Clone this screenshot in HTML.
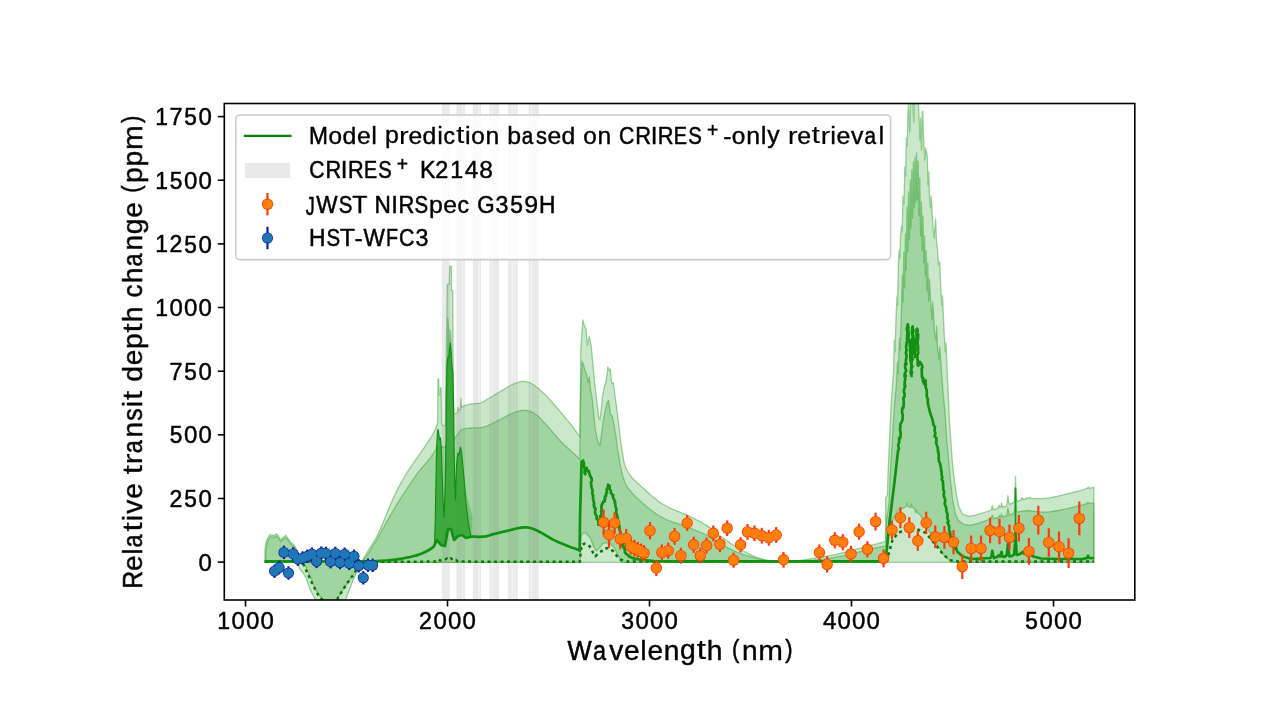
<!DOCTYPE html>
<html><head><meta charset="utf-8"><title>chart</title>
<style>html,body{margin:0;padding:0;background:#fff}svg{display:block}text{font-family:"Liberation Sans",sans-serif;fill:#000}</style></head>
<body>
<svg width="1275" height="712" viewBox="0 0 1275 712">
<defs><clipPath id="ax"><rect x="224.3" y="103.5" width="910.5" height="496.5"/></clipPath></defs>
<rect width="1275" height="712" fill="#fff"/>
<g clip-path="url(#ax)">
<path d="M264.9 562.3 L265.0 550.0 L265.5 545.0 L266.5 541.0 L267.9 537.6 L269.4 535.4 L270.8 534.5 L272.2 535.1 L273.8 535.8 L276.6 533.8 L278.5 536.2 L280.8 540.2 L283.0 537.4 L285.8 535.3 L288.1 538.5 L290.3 541.9 L293.1 544.1 L295.4 546.9 L297.5 552.0 L299.5 558.0 L301.5 561.5 L361.5 561.5 L361.5 561.5 L361.6 561.3 L361.8 561.1 L362.0 560.8 L362.2 560.5 L362.4 560.2 L362.7 559.7 L363.1 559.2 L363.5 558.5 L364.0 557.7 L364.5 556.8 L365.0 555.9 L365.7 554.8 L366.3 553.7 L367.0 552.5 L367.7 551.3 L368.5 550.0 L369.3 548.7 L370.2 547.3 L371.2 545.8 L372.2 544.3 L373.2 542.7 L374.2 541.2 L375.1 539.6 L376.0 538.0 L376.8 536.4 L377.6 534.9 L378.4 533.3 L379.1 531.7 L379.8 530.1 L380.5 528.4 L381.3 526.7 L382.0 525.0 L382.7 523.3 L383.5 521.5 L384.2 519.7 L384.9 517.9 L385.7 516.1 L386.4 514.1 L387.3 512.1 L388.2 510.0 L389.2 507.7 L390.2 505.3 L391.3 502.8 L392.4 500.2 L393.6 497.6 L394.8 495.0 L396.0 492.5 L397.2 490.0 L398.4 487.6 L399.7 485.2 L401.0 482.8 L402.4 480.5 L403.7 478.2 L405.0 475.9 L406.4 473.7 L407.7 471.5 L409.0 469.4 L410.4 467.3 L411.8 465.3 L413.1 463.4 L414.5 461.4 L415.8 459.6 L417.1 457.8 L418.3 456.0 L419.5 454.3 L420.6 452.6 L421.8 451.0 L422.8 449.5 L423.9 448.0 L424.9 446.5 L425.9 445.1 L426.8 443.7 L427.7 442.4 L428.5 441.1 L429.3 439.9 L430.1 438.8 L430.8 437.6 L431.5 436.5 L432.1 435.5 L432.7 434.4 L433.3 433.3 L433.8 432.3 L434.3 431.2 L434.7 430.2 L435.1 429.3 L435.5 428.4 L435.8 427.5 L436.1 426.8 L436.4 426.2 L436.6 425.6 L436.8 425.1 L437.0 424.7 L437.1 424.3 L437.2 424.0 L437.3 423.7 L437.4 423.5 L437.6 423.0 L438.0 379.0 L438.7 379.0 L439.0 394.6 L440.3 394.6 L440.5 387.7 L441.1 387.7 L441.6 423.0 L442.4 425.0 L445.4 426.0 L446.4 345.0 L447.1 300.0 L447.2 284.3 L449.2 284.3 L449.6 272.0 L449.8 266.1 L451.4 266.1 L451.5 290.4 L452.8 290.4 L453.0 345.0 L453.4 400.0 L453.8 414.0 L454.5 414.2 L456.4 413.2 L457.5 412.0 L457.9 407.3 L458.4 411.0 L460.3 409.0 L460.9 398.5 L461.5 407.3 L461.8 407.3 L462.0 407.2 L462.2 407.0 L462.4 406.8 L462.7 406.5 L463.1 406.3 L463.4 406.0 L463.9 405.8 L464.3 405.6 L464.8 405.4 L465.3 405.3 L465.9 405.1 L466.5 404.9 L467.2 404.8 L467.9 404.7 L468.5 404.5 L469.2 404.4 L469.9 404.3 L470.6 404.2 L471.3 404.1 L472.0 404.0 L472.8 403.9 L473.5 403.8 L474.3 403.7 L475.0 403.6 L475.7 403.5 L476.5 403.5 L477.2 403.5 L478.0 403.5 L478.7 403.5 L479.5 403.4 L480.3 403.2 L481.1 403.0 L481.9 402.6 L482.8 402.2 L483.7 401.7 L484.5 401.1 L485.4 400.5 L486.3 399.9 L487.2 399.3 L488.1 398.8 L489.0 398.3 L489.9 397.8 L490.7 397.2 L491.6 396.7 L492.5 396.2 L493.4 395.7 L494.2 395.1 L495.1 394.6 L496.0 394.1 L496.9 393.6 L497.7 393.0 L498.6 392.5 L499.5 392.0 L500.4 391.4 L501.2 390.9 L502.1 390.4 L503.0 389.9 L503.8 389.3 L504.7 388.8 L505.6 388.2 L506.5 387.7 L507.3 387.2 L508.2 386.7 L509.1 386.2 L510.0 385.7 L510.9 385.3 L511.8 384.8 L512.7 384.4 L513.5 384.0 L514.4 383.6 L515.3 383.2 L516.2 382.9 L517.1 382.6 L518.0 382.3 L518.8 382.1 L519.7 381.8 L520.6 381.7 L521.5 381.5 L522.3 381.4 L523.2 381.4 L524.1 381.4 L525.0 381.5 L525.8 381.6 L526.7 381.8 L527.6 382.0 L528.5 382.2 L529.3 382.5 L530.2 382.9 L531.1 383.3 L531.9 383.8 L532.8 384.4 L533.7 384.9 L534.6 385.6 L535.4 386.2 L536.3 386.9 L537.2 387.6 L538.1 388.3 L539.0 389.0 L539.9 389.8 L540.8 390.6 L541.6 391.4 L542.5 392.2 L543.4 393.1 L544.3 393.9 L545.2 394.8 L546.1 395.6 L546.9 396.5 L547.8 397.4 L548.7 398.4 L549.6 399.3 L550.4 400.2 L551.3 401.2 L552.2 402.2 L553.0 403.2 L553.9 404.2 L554.8 405.2 L555.7 406.2 L556.5 407.2 L557.4 408.3 L558.3 409.3 L559.2 410.3 L560.0 411.4 L560.9 412.5 L561.8 413.5 L562.7 414.6 L563.5 415.7 L564.4 416.7 L565.3 417.8 L566.2 418.8 L567.1 419.9 L567.9 420.9 L568.8 421.9 L569.7 423.0 L570.6 424.0 L571.4 425.1 L572.3 426.2 L573.2 427.4 L574.2 428.8 L575.2 430.2 L576.2 431.6 L577.1 433.0 L578.0 434.2 L578.7 435.2 L579.2 436.0 L579.8 437.0 L580.3 400.0 L580.8 349.3 L582.8 319.8 L584.7 326.7 L586.1 328.7 L587.3 345.4 L589.3 336.5 L591.2 346.3 L592.6 361.1 L594.6 382.7 L596.5 398.4 L598.5 416.1 L599.9 420.0 L601.4 408.2 L602.4 396.4 L604.4 386.6 L606.3 380.7 L607.9 367.0 L609.3 370.9 L610.3 368.9 L611.7 383.7 L613.2 382.7 L614.8 394.5 L616.2 404.3 L618.1 420.0 L620.1 435.7 L620.5 440.0 L620.7 441.1 L620.9 442.5 L621.1 444.3 L621.4 446.2 L621.7 448.2 L622.0 450.3 L622.3 452.2 L622.6 454.0 L622.9 455.7 L623.2 457.3 L623.5 459.0 L623.8 460.6 L624.1 462.2 L624.5 463.8 L624.9 465.3 L625.4 466.7 L626.0 468.1 L626.6 469.4 L627.3 470.7 L628.0 472.0 L628.7 473.2 L629.5 474.3 L630.3 475.4 L631.1 476.5 L631.9 477.5 L632.8 478.5 L633.6 479.4 L634.5 480.2 L635.4 481.0 L636.3 481.9 L637.2 482.7 L638.1 483.5 L639.0 484.3 L639.9 485.1 L640.7 485.9 L641.6 486.7 L642.5 487.5 L643.4 488.3 L644.2 489.1 L645.1 489.9 L646.0 490.7 L646.8 491.5 L647.7 492.3 L648.6 493.1 L649.5 493.9 L650.3 494.7 L651.2 495.4 L652.1 496.2 L653.0 496.9 L653.9 497.7 L654.8 498.4 L655.7 499.1 L656.5 499.8 L657.4 500.5 L658.3 501.2 L659.2 501.8 L660.1 502.4 L661.0 503.0 L661.8 503.5 L662.7 504.0 L663.6 504.5 L664.5 505.0 L665.3 505.5 L666.2 506.0 L667.1 506.5 L668.0 506.9 L668.8 507.4 L669.7 507.8 L670.6 508.3 L671.5 508.7 L672.3 509.1 L673.2 509.5 L674.1 509.9 L675.0 510.2 L675.8 510.6 L676.7 510.9 L677.6 511.3 L678.5 511.6 L679.3 512.0 L680.2 512.3 L681.1 512.6 L681.9 513.0 L682.8 513.3 L683.7 513.6 L684.6 514.0 L685.4 514.3 L686.3 514.7 L687.2 515.1 L688.1 515.5 L689.0 515.9 L689.9 516.4 L690.8 516.9 L691.6 517.3 L692.5 517.8 L693.4 518.2 L694.3 518.7 L695.2 519.1 L696.0 519.5 L696.9 519.9 L697.7 520.3 L698.6 520.7 L699.4 521.2 L700.3 521.7 L701.3 522.2 L702.3 522.8 L703.4 523.5 L704.5 524.2 L705.7 524.9 L706.8 525.6 L707.9 526.4 L709.0 527.1 L710.0 527.8 L710.9 528.5 L711.7 529.2 L712.5 529.8 L713.3 530.5 L714.0 531.2 L714.8 531.9 L715.6 532.5 L716.4 533.2 L717.3 533.9 L718.2 534.6 L719.2 535.3 L720.2 536.0 L721.2 536.6 L722.1 537.3 L723.1 538.0 L724.0 538.6 L724.8 539.2 L725.6 539.8 L726.3 540.3 L727.0 540.8 L727.8 541.3 L728.6 541.9 L729.5 542.5 L730.5 543.2 L731.7 544.0 L733.0 544.8 L734.5 545.7 L736.0 546.6 L737.5 547.5 L739.0 548.4 L740.4 549.2 L741.7 550.0 L742.9 550.7 L744.0 551.3 L745.0 551.9 L746.1 552.4 L747.0 552.9 L748.0 553.4 L749.0 553.9 L750.0 554.4 L751.0 554.9 L752.0 555.3 L753.0 555.8 L754.0 556.2 L755.0 556.6 L756.0 557.0 L757.0 557.3 L758.0 557.7 L759.0 558.0 L760.0 558.4 L760.9 558.7 L761.9 559.0 L762.9 559.2 L763.9 559.5 L764.9 559.8 L766.0 560.0 L767.1 560.2 L768.3 560.4 L769.5 560.6 L770.7 560.8 L771.9 561.0 L773.2 561.1 L774.6 561.3 L776.0 561.4 L777.4 561.5 L778.8 561.7 L780.3 561.8 L781.8 561.9 L783.4 561.9 L785.1 562.0 L787.0 561.9 L789.0 561.8 L791.2 561.6 L793.6 561.3 L796.0 561.0 L798.7 560.6 L801.4 560.2 L804.2 559.8 L807.2 559.3 L810.2 558.8 L813.4 558.3 L816.9 557.7 L820.5 557.1 L824.3 556.5 L828.0 555.9 L831.6 555.2 L835.1 554.6 L838.3 553.9 L841.3 553.2 L844.2 552.5 L847.0 551.8 L849.7 551.0 L852.3 550.3 L854.8 549.6 L857.2 548.9 L859.4 548.3 L861.5 547.8 L863.5 547.3 L865.3 546.8 L867.0 546.4 L868.7 546.0 L870.3 545.6 L871.8 545.2 L873.4 544.8 L875.0 544.4 L876.7 543.9 L878.3 543.5 L879.9 543.0 L881.4 542.6 L882.7 542.2 L883.8 541.9 L884.7 541.7 L885.5 541.7 L885.7 498.0 L887.4 495.0 L888.2 470.0 L889.7 436.0 L891.0 408.0 L892.5 385.0 L893.6 372.0 L894.2 340.0 L895.0 352.0 L896.0 318.0 L897.0 296.0 L897.6 305.0 L898.4 262.0 L899.2 250.0 L899.8 258.0 L900.6 236.0 L901.5 226.0 L902.2 232.0 L903.0 196.0 L904.0 204.0 L904.8 167.0 L905.6 176.0 L906.4 138.0 L907.2 146.0 L908.0 112.0 L908.5 104.0 L909.2 118.0 L909.8 132.0 L910.4 108.0 L911.0 96.0 L912.6 96.0 L913.2 112.0 L913.8 122.0 L914.3 100.0 L915.0 96.0 L917.6 96.0 L918.3 102.0 L918.9 112.0 L919.8 140.0 L920.6 118.0 L921.5 150.0 L922.3 112.0 L922.8 111.0 L923.4 135.0 L923.9 145.0 L924.8 160.0 L925.6 148.0 L927.3 156.0 L928.0 185.0 L928.8 172.0 L929.6 199.0 L930.5 208.0 L931.2 196.0 L932.9 226.0 L934.0 238.0 L935.6 219.0 L936.4 240.0 L937.4 248.0 L938.5 265.0 L939.7 262.0 L940.8 289.0 L941.8 305.0 L942.5 296.0 L944.2 334.0 L945.3 352.0 L946.0 343.0 L947.5 379.0 L949.5 422.0 L952.5 464.0 L955.0 486.0 L957.0 498.0 L959.0 507.0 L962.0 513.5 L963.6 514.7 L968.7 516.4 L975.4 515.2 L982.2 513.0 L990.6 510.5 L991.5 509.0 L992.3 505.4 L993.2 509.5 L997.3 508.8 L998.5 507.0 L999.2 505.2 L999.9 507.5 L1000.8 506.5 L1001.5 502.9 L1002.3 507.0 L1006.6 506.2 L1007.3 502.0 L1007.9 495.6 L1008.6 502.0 L1009.5 504.6 L1014.2 502.0 L1014.9 495.0 L1015.5 476.7 L1016.1 495.0 L1016.7 501.2 L1020.9 500.3 L1021.8 498.0 L1022.6 497.8 L1023.4 499.8 L1027.7 497.8 L1029.5 498.0 L1030.2 497.0 L1031.0 498.5 L1041.2 498.7 L1049.6 497.8 L1058.0 496.1 L1066.5 494.1 L1074.9 491.9 L1083.3 489.9 L1087.5 488.2 L1088.4 486.9 L1089.4 488.3 L1093.8 487.4 L1093.9 562.3 L362.0 562.3 L361.8 562.0 L359.6 566.2 L356.1 573.2 L351.9 583.0 L347.7 594.3 L345.6 600.0 L345.0 606.0 L315.5 606.0 L315.0 599.2 L312.8 594.7 L309.4 587.9 L306.0 577.8 L303.3 573.3 L300.4 570.0 L298.8 566.6 L297.5 562.3 L264.9 562.3 Z" fill="#2ca02c" fill-opacity="0.25" stroke="#2ca02c" stroke-opacity="0.45" stroke-width="1.3" stroke-linejoin="round"/>
<path d="M265.6 562.3 L265.8 552.0 L266.6 546.0 L267.8 541.5 L269.2 538.2 L270.8 536.5 L272.4 537.0 L274.0 537.6 L276.6 535.8 L278.5 538.2 L280.8 542.0 L283.0 539.2 L285.8 537.5 L288.1 540.2 L290.3 543.6 L293.1 546.0 L295.4 549.0 L297.5 554.0 L299.5 559.0 L301.5 561.5 L361.8 561.5 L362.0 561.5 L362.2 561.3 L362.4 561.1 L362.7 560.9 L363.0 560.7 L363.3 560.3 L363.7 560.0 L364.1 559.5 L364.5 559.0 L364.9 558.4 L365.4 557.8 L365.9 557.1 L366.4 556.4 L367.0 555.6 L367.6 554.7 L368.3 553.7 L369.0 552.5 L369.8 551.2 L370.7 549.8 L371.6 548.3 L372.6 546.7 L373.7 545.0 L374.7 543.2 L375.9 541.4 L377.0 539.4 L378.2 537.3 L379.4 535.0 L380.8 532.7 L382.1 530.2 L383.5 527.7 L384.8 525.2 L386.2 522.8 L387.5 520.4 L388.8 518.1 L390.1 515.8 L391.5 513.5 L392.8 511.2 L394.1 509.0 L395.4 506.8 L396.7 504.6 L398.0 502.5 L399.3 500.4 L400.6 498.4 L401.8 496.4 L403.1 494.4 L404.4 492.5 L405.6 490.5 L406.9 488.6 L408.2 486.7 L409.5 484.8 L410.8 482.8 L412.1 480.9 L413.5 478.9 L414.8 477.0 L416.1 475.2 L417.3 473.5 L418.5 471.9 L419.7 470.4 L420.8 469.0 L421.9 467.8 L423.0 466.5 L424.0 465.4 L425.0 464.3 L425.9 463.2 L426.8 462.2 L427.6 461.2 L428.3 460.3 L429.0 459.4 L429.7 458.6 L430.3 457.8 L430.8 457.0 L431.4 456.2 L431.9 455.5 L432.4 454.8 L432.9 454.1 L433.4 453.4 L433.8 452.7 L434.3 452.1 L434.6 451.5 L435.0 450.9 L435.3 450.4 L435.6 449.9 L435.8 449.4 L436.0 448.9 L436.1 448.4 L436.2 448.0 L436.3 447.7 L436.4 447.3 L436.5 447.1 L437.0 447.0 L442.4 447.0 L445.4 447.0 L446.6 440.0 L447.4 380.0 L447.9 318.0 L448.6 330.0 L449.4 380.0 L450.3 330.0 L451.0 345.0 L451.6 380.0 L452.3 400.0 L453.0 425.0 L453.8 440.0 L455.5 437.4 L457.4 434.5 L458.9 432.7 L460.9 430.0 L460.9 430.0 L461.1 429.9 L461.5 429.8 L461.8 429.7 L462.3 429.5 L462.7 429.4 L463.2 429.3 L463.6 429.1 L464.0 429.0 L464.4 428.9 L464.7 428.8 L465.0 428.7 L465.3 428.6 L465.6 428.5 L466.0 428.5 L466.4 428.4 L467.0 428.3 L467.7 428.2 L468.5 428.2 L469.3 428.1 L470.2 428.0 L471.2 428.0 L472.1 427.9 L473.1 427.8 L474.0 427.8 L474.9 427.8 L475.8 427.8 L476.7 427.8 L477.6 427.8 L478.4 427.8 L479.3 427.8 L480.2 427.7 L481.1 427.6 L482.0 427.4 L482.9 427.2 L483.7 427.0 L484.6 426.8 L485.5 426.5 L486.4 426.2 L487.2 425.8 L488.1 425.5 L489.0 425.1 L489.9 424.7 L490.7 424.3 L491.6 423.8 L492.5 423.4 L493.4 422.9 L494.2 422.4 L495.1 422.0 L496.0 421.6 L496.9 421.1 L497.7 420.7 L498.6 420.3 L499.5 419.8 L500.4 419.4 L501.2 419.0 L502.1 418.5 L503.0 418.0 L503.8 417.5 L504.7 417.1 L505.6 416.6 L506.5 416.1 L507.3 415.6 L508.2 415.1 L509.1 414.7 L510.0 414.3 L510.9 413.9 L511.8 413.5 L512.7 413.2 L513.5 412.8 L514.4 412.5 L515.3 412.2 L516.2 411.9 L517.1 411.6 L518.0 411.4 L518.8 411.1 L519.7 410.9 L520.6 410.7 L521.5 410.6 L522.3 410.5 L523.2 410.4 L524.1 410.4 L525.0 410.4 L525.8 410.5 L526.7 410.5 L527.6 410.7 L528.5 410.9 L529.3 411.1 L530.2 411.4 L531.1 411.8 L531.9 412.2 L532.8 412.6 L533.7 413.1 L534.6 413.7 L535.4 414.3 L536.3 414.9 L537.2 415.6 L538.1 416.3 L539.0 417.2 L539.9 418.0 L540.8 418.9 L541.6 419.9 L542.5 420.8 L543.4 421.8 L544.3 422.7 L545.2 423.6 L546.1 424.6 L546.9 425.5 L547.8 426.5 L548.7 427.4 L549.6 428.4 L550.4 429.4 L551.3 430.4 L552.2 431.4 L553.0 432.5 L553.9 433.6 L554.8 434.6 L555.7 435.7 L556.5 436.8 L557.4 437.8 L558.3 438.8 L559.2 439.7 L560.0 440.7 L560.9 441.6 L561.8 442.4 L562.7 443.3 L563.5 444.1 L564.4 445.0 L565.3 445.8 L566.2 446.6 L567.1 447.4 L567.9 448.2 L568.8 449.0 L569.7 449.8 L570.6 450.6 L571.4 451.4 L572.3 452.2 L573.2 453.0 L574.2 453.9 L575.2 454.8 L576.2 455.8 L577.1 456.6 L578.0 457.4 L578.7 458.0 L579.2 458.5 L579.8 459.5 L580.3 420.0 L580.8 388.6 L582.2 361.1 L583.8 366.0 L585.3 370.9 L586.7 374.8 L588.1 382.7 L589.3 376.8 L590.6 390.5 L592.0 396.4 L593.6 412.2 L595.1 427.9 L596.5 435.7 L598.5 443.6 L599.9 445.6 L601.4 435.7 L603.4 420.0 L605.4 410.2 L607.3 402.3 L608.7 400.4 L610.3 414.1 L612.2 416.1 L614.2 425.9 L616.2 437.7 L616.3 440.0 L616.5 441.1 L616.7 442.5 L616.9 444.3 L617.2 446.2 L617.5 448.2 L617.8 450.3 L618.1 452.2 L618.4 454.0 L618.7 455.7 L618.9 457.3 L619.2 458.9 L619.4 460.5 L619.7 462.1 L619.9 463.7 L620.2 465.2 L620.5 466.7 L620.8 468.2 L621.1 469.7 L621.5 471.1 L621.8 472.6 L622.2 474.0 L622.5 475.3 L622.9 476.6 L623.3 477.9 L623.7 479.1 L624.1 480.2 L624.5 481.3 L624.9 482.4 L625.4 483.4 L625.8 484.4 L626.3 485.3 L626.9 486.3 L627.5 487.3 L628.2 488.2 L628.9 489.1 L629.6 490.0 L630.3 490.9 L631.1 491.8 L631.8 492.6 L632.5 493.4 L633.2 494.2 L633.9 494.9 L634.5 495.6 L635.2 496.2 L635.9 496.9 L636.6 497.6 L637.3 498.3 L638.1 499.0 L638.9 499.8 L639.8 500.5 L640.6 501.3 L641.5 502.1 L642.4 503.0 L643.3 503.8 L644.2 504.5 L645.1 505.3 L646.0 506.0 L646.8 506.8 L647.7 507.5 L648.6 508.2 L649.5 508.9 L650.3 509.6 L651.2 510.2 L652.1 510.9 L653.0 511.6 L653.9 512.2 L654.8 512.8 L655.7 513.5 L656.5 514.1 L657.4 514.7 L658.3 515.3 L659.2 515.8 L660.1 516.3 L661.0 516.8 L661.8 517.3 L662.7 517.7 L663.6 518.2 L664.5 518.6 L665.3 519.0 L666.2 519.4 L667.1 519.8 L668.0 520.2 L668.8 520.5 L669.7 520.9 L670.6 521.2 L671.5 521.6 L672.3 521.9 L673.2 522.2 L674.1 522.5 L675.0 522.8 L675.8 523.0 L676.7 523.2 L677.6 523.5 L678.5 523.7 L679.3 524.0 L680.2 524.3 L681.1 524.6 L681.9 525.0 L682.8 525.3 L683.7 525.7 L684.6 526.0 L685.4 526.4 L686.3 526.7 L687.2 527.1 L688.1 527.5 L689.0 527.8 L689.9 528.1 L690.8 528.5 L691.6 528.9 L692.5 529.2 L693.4 529.6 L694.3 529.9 L695.2 530.2 L696.0 530.6 L696.9 530.9 L697.7 531.2 L698.6 531.5 L699.4 531.9 L700.3 532.3 L701.3 532.7 L702.3 533.1 L703.2 533.6 L704.2 534.0 L705.2 534.4 L706.3 534.9 L707.5 535.5 L708.7 536.2 L710.0 536.9 L711.4 537.8 L713.0 538.8 L714.6 539.8 L716.4 541.0 L718.1 542.1 L719.9 543.3 L721.7 544.4 L723.4 545.4 L725.1 546.4 L726.9 547.3 L728.7 548.3 L730.5 549.2 L732.3 550.0 L734.1 550.9 L735.8 551.7 L737.5 552.4 L739.2 553.1 L740.8 553.7 L742.4 554.3 L744.0 554.8 L745.6 555.3 L747.1 555.7 L748.6 556.2 L750.0 556.6 L751.4 557.0 L752.7 557.4 L753.9 557.7 L755.2 558.1 L756.4 558.4 L757.6 558.6 L758.8 558.9 L760.0 559.2 L761.2 559.5 L762.5 559.7 L763.8 560.0 L765.0 560.2 L766.2 560.4 L767.5 560.6 L768.8 560.8 L770.0 561.0 L771.2 561.2 L772.5 561.3 L773.8 561.4 L775.0 561.5 L776.2 561.6 L777.5 561.7 L778.8 561.7 L780.0 561.8 L781.1 561.9 L782.1 561.9 L783.1 562.0 L784.1 562.1 L785.2 562.1 L786.4 562.1 L788.0 562.1 L790.0 562.0 L792.4 561.9 L795.2 561.7 L798.4 561.5 L801.7 561.2 L805.1 560.9 L808.5 560.6 L811.9 560.3 L815.0 560.0 L818.0 559.7 L821.0 559.3 L824.0 558.9 L826.9 558.5 L829.8 558.1 L832.7 557.7 L835.5 557.2 L838.3 556.7 L841.1 556.2 L843.9 555.6 L846.7 554.9 L849.4 554.3 L852.1 553.6 L854.7 553.0 L857.1 552.4 L859.4 551.8 L861.5 551.3 L863.5 550.8 L865.3 550.3 L867.0 549.9 L868.7 549.4 L870.3 549.0 L871.8 548.7 L873.4 548.3 L875.0 548.0 L876.7 547.6 L878.3 547.3 L879.9 547.0 L881.4 546.8 L882.7 546.5 L883.8 546.4 L884.7 546.2 L885.8 546.0 L886.5 520.0 L889.0 503.7 L890.5 470.0 L892.5 436.2 L894.5 405.0 L896.7 380.0 L897.5 362.0 L898.2 374.0 L899.5 338.0 L900.3 350.0 L901.5 307.0 L902.3 275.0 L903.0 302.0 L903.8 252.0 L904.6 288.0 L905.4 234.0 L906.2 270.0 L907.0 207.0 L907.8 252.0 L908.6 192.0 L909.4 240.0 L910.2 180.0 L911.0 228.0 L911.8 170.0 L912.6 218.0 L913.4 162.0 L914.2 208.0 L915.0 157.0 L915.8 202.0 L916.6 153.0 L917.4 200.0 L918.2 161.0 L919.0 216.0 L919.8 178.0 L920.6 236.0 L921.4 202.0 L922.2 251.0 L923.0 216.0 L923.8 263.0 L924.6 236.0 L925.4 276.0 L926.2 251.0 L927.0 291.0 L927.8 263.0 L928.6 301.0 L929.4 279.0 L930.7 302.0 L932.0 320.0 L932.8 302.0 L934.5 332.0 L936.0 340.0 L936.7 326.0 L937.4 346.0 L939.0 360.0 L939.8 347.0 L941.9 378.0 L943.0 392.0 L945.0 412.0 L946.5 436.0 L950.1 477.0 L952.7 500.0 L955.4 514.0 L958.5 520.6 L963.6 524.3 L970.3 525.3 L977.1 523.6 L983.8 521.4 L990.6 518.9 L991.5 517.0 L992.3 515.2 L993.2 518.5 L998.5 517.5 L999.3 515.5 L1000.0 517.5 L1000.8 516.0 L1001.5 513.8 L1002.3 517.0 L1006.6 515.9 L1007.3 512.0 L1007.9 507.9 L1008.6 512.0 L1009.5 515.2 L1014.2 513.0 L1014.9 505.0 L1015.5 487.7 L1016.1 505.0 L1016.7 512.2 L1020.9 511.3 L1027.7 510.5 L1034.4 511.3 L1041.2 512.2 L1049.6 511.8 L1058.0 510.5 L1066.5 508.8 L1074.9 506.8 L1083.3 504.6 L1087.3 503.5 L1088.0 502.0 L1088.8 503.6 L1093.8 502.9 L1093.9 562.3 L951.0 562.3 L950.0 561.0 L943.0 554.0 L934.6 540.0 L926.0 526.0 L921.0 516.0 L917.0 512.0 L916.4 510.0 L915.5 513.0 L914.5 508.5 L912.2 507.5 L911.5 504.0 L910.8 507.5 L908.0 506.5 L907.2 503.0 L906.5 506.5 L898.0 510.7 L892.5 520.5 L888.0 537.0 L886.0 562.3 L621.0 562.3 L620.5 559.5 L617.0 553.0 L613.5 546.5 L609.0 543.0 L605.8 542.6 L602.6 543.7 L599.5 547.9 L596.3 551.1 L593.2 545.8 L591.0 539.5 L588.9 536.3 L585.8 533.2 L583.0 533.2 L581.2 536.0 L580.2 562.3 L361.0 562.3 L359.6 564.0 L356.8 569.0 L354.0 573.9 L350.5 578.8 L346.3 584.5 L342.8 590.0 L339.3 595.7 L337.9 598.0 L336.5 606.0 L323.5 606.0 L322.9 599.2 L320.7 596.9 L317.3 592.4 L313.9 585.7 L310.6 577.8 L307.2 570.0 L304.4 564.3 L303.0 562.3 L265.6 562.3 Z" fill="#2ca02c" fill-opacity="0.26" stroke="#2ca02c" stroke-opacity="0.45" stroke-width="1.3" stroke-linejoin="round"/>
<rect x="441.9" y="103.5" width="7.9" height="496.5" fill="#808080" fill-opacity="0.17"/>
<rect x="456.4" y="103.5" width="5.8" height="496.5" fill="#808080" fill-opacity="0.17"/>
<rect x="462.8" y="103.5" width="2.1" height="496.5" fill="#808080" fill-opacity="0.17"/>
<rect x="472.9" y="103.5" width="5.8" height="496.5" fill="#808080" fill-opacity="0.17"/>
<rect x="479.3" y="103.5" width="1.7" height="496.5" fill="#808080" fill-opacity="0.17"/>
<rect x="489.3" y="103.5" width="2.3" height="496.5" fill="#808080" fill-opacity="0.17"/>
<rect x="492.2" y="103.5" width="6.8" height="496.5" fill="#808080" fill-opacity="0.17"/>
<rect x="508.0" y="103.5" width="3.8" height="496.5" fill="#808080" fill-opacity="0.17"/>
<rect x="512.4" y="103.5" width="2.3" height="496.5" fill="#808080" fill-opacity="0.17"/>
<rect x="515.3" y="103.5" width="2.5" height="496.5" fill="#808080" fill-opacity="0.17"/>
<rect x="528.7" y="103.5" width="2.7" height="496.5" fill="#808080" fill-opacity="0.17"/>
<rect x="532.0" y="103.5" width="6.8" height="496.5" fill="#808080" fill-opacity="0.17"/>
<path d="M434.5 544.0 L435.3 520.0 L436.0 480.0 L436.8 445.0 L437.5 431.0 L438.0 429.5 L438.8 434.0 L439.6 440.0 L440.4 437.9 L441.2 446.0 L442.0 470.0 L443.0 500.0 L444.0 516.8 L444.6 505.0 L445.3 480.0 L446.1 440.0 L446.3 400.0 L447.0 365.0 L447.8 357.4 L448.8 358.0 L449.4 350.0 L450.3 343.0 L451.2 352.0 L452.0 366.0 L452.8 372.0 L453.5 400.0 L454.0 440.0 L454.6 480.0 L455.5 500.0 L456.0 480.0 L456.6 465.0 L457.4 456.0 L458.0 453.0 L459.0 455.0 L460.4 447.0 L461.5 452.0 L462.5 462.0 L464.0 478.0 L466.0 504.0 L468.2 521.0 L470.0 532.0 L471.0 535.8 L470.0 537.0 L466.0 538.0 L462.0 535.0 L458.0 536.0 L454.0 540.0 L451.0 529.0 L448.0 529.0 L445.0 546.0 L441.0 545.0 L437.0 540.0 Z" fill="#2aa02a" fill-opacity="0.82" stroke="#109010" stroke-width="1.2" stroke-linejoin="round"/>
<path d="M464.0 478.0 L466.0 492.0 L469.0 505.0 L472.4 515.8 L472.4 536.0 L468.0 522.0 L466.0 504.0 Z" fill="#2ca02c" fill-opacity="0.35" stroke="none"/>
<path d="M264.6 561.6 L300.0 561.6 L302.0 562.5 L303.8 564.9 L306.0 570.0 L309.4 577.2 L312.2 583.4 L315.0 589.0 L318.4 595.2 L321.2 598.6 L323.0 601.0 L330.0 603.0 L337.0 601.0 L337.9 598.0 L339.3 595.7 L342.8 590.0 L346.3 584.5 L350.5 578.8 L354.0 573.9 L356.8 569.0 L359.6 564.0 L361.0 561.8 L436.0 561.6 L438.0 559.5 L440.0 560.5 L444.0 560.0 L447.0 558.5 L449.0 559.8 L451.0 558.2 L453.0 560.5 L456.0 560.0 L458.0 561.6 L579.8 561.8 L580.3 556.0 L581.6 544.7 L584.7 543.7 L587.9 544.7 L591.1 547.9 L593.2 553.2 L595.3 556.3 L598.4 553.2 L601.6 551.1 L604.7 548.3 L608.9 548.3 L613.2 551.1 L616.3 555.3 L620.5 559.5 L626.8 561.6 L886.0 561.6 L887.0 560.0 L892.5 540.0 L898.1 533.0 L903.7 530.4 L909.3 527.6 L915.0 529.0 L920.6 530.4 L926.2 533.2 L931.8 540.2 L937.5 547.2 L943.1 554.3 L948.7 559.3 L954.3 561.6 L1093.8 561.6" fill="none" stroke="#0a750a" stroke-width="2.5" stroke-dasharray="3 3.5" stroke-linejoin="round"/>
<path d="M264.6 561.4 L363.0 561.4 L375.0 561.2 L376.1 561.1 L377.6 561.0 L379.4 560.9 L381.3 560.8 L383.4 560.7 L385.5 560.5 L387.6 560.4 L389.5 560.2 L391.3 560.0 L393.2 559.8 L395.0 559.6 L396.8 559.4 L398.7 559.1 L400.5 558.8 L402.4 558.5 L404.2 558.2 L406.1 557.8 L408.0 557.4 L410.0 557.0 L412.0 556.5 L413.9 556.0 L415.7 555.6 L417.4 555.1 L419.0 554.6 L420.4 554.1 L421.8 553.6 L423.0 553.0 L424.1 552.5 L425.2 552.0 L426.1 551.5 L427.0 551.0 L427.8 550.6 L428.5 550.3 L429.0 550.0 L429.4 549.7 L429.8 549.5 L430.1 549.3 L430.4 549.1 L430.7 548.8 L431.0 548.6 L431.4 548.3 L431.8 548.1 L432.2 547.8 L432.6 547.5 L432.9 547.2 L433.2 547.0 L433.5 546.8 L433.7 546.6 L437.0 540.0 L441.0 545.0 L445.0 546.0 L448.0 529.0 L451.0 529.0 L454.0 540.0 L458.0 536.0 L462.0 535.0 L466.0 538.0 L470.0 537.0 L472.0 536.6 L472.9 536.6 L474.1 536.7 L475.6 536.7 L477.2 536.8 L478.9 536.8 L480.6 536.8 L482.2 536.7 L483.8 536.6 L485.3 536.4 L486.8 536.1 L488.2 535.7 L489.7 535.3 L491.2 534.8 L492.7 534.4 L494.1 534.0 L495.6 533.6 L497.1 533.2 L498.6 532.9 L500.0 532.5 L501.5 532.1 L503.0 531.8 L504.5 531.4 L505.9 531.1 L507.4 530.7 L508.9 530.3 L510.5 530.0 L512.0 529.6 L513.6 529.2 L515.1 528.8 L516.6 528.5 L517.9 528.2 L519.2 528.0 L520.3 527.8 L521.4 527.6 L522.3 527.5 L523.2 527.4 L524.0 527.4 L524.9 527.3 L525.7 527.3 L526.6 527.4 L527.5 527.5 L528.4 527.6 L529.3 527.8 L530.2 528.0 L531.0 528.2 L532.0 528.5 L532.9 528.8 L533.9 529.2 L534.9 529.6 L535.9 530.1 L537.0 530.6 L538.1 531.1 L539.2 531.7 L540.3 532.3 L541.5 532.9 L542.8 533.6 L544.1 534.3 L545.5 535.2 L547.0 536.1 L548.5 537.0 L550.0 537.9 L551.6 538.8 L553.1 539.6 L554.6 540.4 L556.1 541.1 L557.5 541.8 L559.0 542.4 L560.5 543.0 L561.9 543.6 L563.4 544.2 L564.9 544.8 L566.4 545.4 L568.0 546.0 L569.7 546.7 L571.6 547.4 L573.3 548.0 L575.0 548.6 L576.6 549.2 L577.8 549.6 L578.8 550.0 L579.6 551.0 L580.1 514.0 L581.6 461.6 L583.0 460.5 L583.1 461.2 L583.9 462.8 L584.0 466.0 L584.7 468.9 L584.9 470.2 L584.4 472.5 L585.2 474.2 L584.8 472.3 L585.1 469.4 L586.0 469.0 L586.8 467.9 L587.2 470.7 L587.8 471.5 L588.9 471.0 L588.9 471.9 L590.2 476.0 L590.6 476.3 L590.9 477.8 L591.7 478.4 L591.8 481.0 L590.9 482.3 L591.4 486.3 L591.4 487.4 L592.1 488.9 L592.5 490.3 L592.6 491.1 L592.1 493.4 L593.2 495.9 L592.9 498.2 L593.3 499.1 L593.6 501.6 L594.3 503.9 L593.7 505.2 L594.4 507.8 L594.9 507.5 L595.5 508.7 L594.9 512.4 L595.3 513.2 L595.6 514.7 L596.9 516.3 L596.5 518.5 L597.9 519.9 L598.3 520.7 L598.4 523.3 L598.4 524.7 L599.9 522.6 L600.2 520.7 L600.8 520.6 L600.5 518.0 L600.1 516.4 L601.2 515.6 L601.6 511.6 L601.2 511.2 L601.6 508.9 L601.3 507.0 L602.0 504.0 L602.2 504.3 L603.3 501.6 L604.7 501.6 L604.5 499.1 L605.1 499.4 L605.0 496.4 L606.0 496.1 L606.2 493.2 L607.0 492.7 L606.6 489.5 L607.0 489.3 L608.2 485.3 L607.9 484.7 L609.6 485.8 L609.5 486.8 L609.9 489.5 L610.8 490.6 L611.0 493.2 L613.2 495.3 L612.8 496.8 L613.7 499.0 L614.9 501.2 L614.6 502.7 L615.2 502.6 L615.3 505.8 L616.2 508.4 L616.5 510.3 L616.2 510.7 L616.1 513.2 L616.4 513.2 L617.4 516.3 L617.3 517.0 L617.8 518.5 L617.6 520.6 L618.0 523.1 L618.2 526.5 L619.4 526.0 L619.5 528.9 L619.5 530.2 L620.0 531.2 L621.1 535.8 L620.9 535.9 L620.7 536.5 L621.6 539.5 L621.8 540.4 L622.9 541.8 L622.2 546.0 L623.3 545.1 L623.7 547.9 L624.5 548.2 L625.1 553.0 L625.8 553.2 L628.9 556.3 L633.2 558.4 L641.6 559.9 L654.2 561.0 L670.0 561.4 L885.5 561.4 L886.9 548.6 L889.7 520.5 L893.9 486.8 L898.1 450.3 L899.0 448.7 L898.2 445.2 L898.3 444.4 L899.2 442.2 L899.1 437.9 L900.2 438.3 L900.5 435.4 L900.7 432.9 L900.0 429.8 L900.5 425.7 L900.2 424.3 L900.9 423.5 L902.3 420.4 L902.5 420.0 L902.8 415.5 L902.3 413.7 L902.1 410.4 L902.3 408.1 L903.2 408.3 L903.8 404.5 L903.7 403.4 L903.7 400.0 L903.2 398.3 L904.6 396.4 L904.5 393.0 L903.7 391.8 L904.1 389.6 L905.3 385.8 L904.5 385.5 L904.8 381.6 L905.3 378.2 L904.4 375.8 L905.8 375.9 L904.7 373.7 L906.2 370.9 L905.3 368.2 L905.1 364.1 L906.5 364.1 L905.9 362.8 L905.9 360.4 L906.7 355.7 L905.9 353.8 L906.0 352.6 L906.5 350.0 L906.2 347.4 L906.1 346.8 L906.6 342.8 L907.1 342.1 L907.0 339.8 L907.2 336.1 L907.4 331.9 L907.3 330.2 L906.8 330.0 L907.2 326.5 L907.8 324.3 L908.4 327.2 L908.0 329.7 L908.6 333.3 L908.8 335.0 L908.4 337.7 L908.8 339.2 L909.8 342.5 L909.7 345.9 L910.5 347.3 L910.0 350.0 L910.3 352.4 L910.3 355.4 L910.4 357.2 L910.5 361.0 L911.1 363.2 L911.6 363.3 L911.1 368.1 L911.7 367.6 L910.7 371.1 L910.8 372.7 L911.6 376.0 L911.0 374.4 L912.1 373.0 L911.2 370.1 L912.0 365.9 L912.4 366.6 L911.4 364.3 L911.7 360.5 L912.7 359.5 L911.4 355.8 L912.1 353.3 L911.6 351.0 L912.5 347.7 L912.2 347.0 L912.2 345.0 L911.5 342.1 L912.5 340.4 L911.7 339.8 L912.9 337.4 L911.9 332.6 L911.8 332.1 L912.3 327.5 L912.7 326.5 L912.7 330.2 L913.5 330.1 L912.6 334.7 L913.4 336.1 L912.8 336.0 L913.9 339.5 L913.8 342.0 L913.3 346.1 L914.4 348.1 L913.7 350.7 L913.8 353.2 L914.6 353.8 L914.9 356.9 L915.1 356.0 L914.8 350.7 L915.4 348.7 L914.9 346.0 L915.0 343.8 L915.5 341.7 L916.0 340.0 L916.7 337.0 L916.5 334.4 L916.5 331.5 L916.6 329.3 L917.2 328.8 L917.7 331.3 L916.9 333.3 L918.2 334.3 L918.1 337.8 L917.6 341.6 L917.5 342.7 L917.8 345.0 L918.2 349.0 L917.7 350.8 L918.3 352.4 L917.9 353.7 L917.4 355.2 L917.4 359.7 L917.8 360.0 L917.6 364.7 L918.3 365.8 L920.0 362.0 L921.7 364.7 L922.5 367.6 L921.7 368.3 L921.8 371.3 L921.8 373.5 L922.1 377.6 L923.4 378.3 L922.8 380.4 L924.2 384.0 L925.7 380.4 L925.5 384.4 L925.8 384.5 L925.6 386.9 L926.5 389.7 L926.8 392.0 L926.7 394.7 L926.8 396.5 L928.0 400.0 L927.7 402.3 L927.9 403.6 L929.0 408.0 L929.4 409.9 L930.4 413.7 L931.2 415.9 L932.2 418.5 L932.5 420.0 L933.4 424.0 L933.4 424.7 L934.9 426.7 L934.6 430.6 L935.4 433.4 L934.6 436.4 L936.4 438.0 L936.5 440.9 L936.0 442.2 L937.0 445.6 L937.8 447.9 L937.9 450.4 L938.4 452.0 L938.1 451.9 L938.9 455.9 L938.6 457.6 L938.9 461.5 L939.9 462.9 L940.3 465.3 L940.4 465.1 L941.2 469.9 L941.1 471.3 L941.6 471.8 L941.7 475.6 L942.4 476.9 L941.6 479.2 L942.9 481.3 L943.2 486.3 L943.1 486.4 L943.3 489.7 L944.1 491.7 L944.2 492.0 L943.6 494.9 L944.5 498.0 L945.2 499.5 L945.2 500.6 L944.7 503.7 L946.0 507.4 L946.3 508.2 L946.4 511.0 L946.6 511.9 L947.6 514.4 L947.3 517.7 L948.5 521.6 L947.5 522.3 L949.2 526.4 L949.1 526.3 L949.2 531.1 L950.1 531.8 L950.2 534.3 L950.6 536.4 L952.5 537.2 L952.9 540.8 L952.9 543.0 L954.6 545.8 L954.6 548.6 L956.0 547.6 L957.1 551.4 L962.7 556.5 L971.2 559.0 L982.2 558.5 L990.6 558.0 L991.5 556.0 L992.3 550.9 L993.2 556.0 L994.0 558.0 L997.0 557.0 L998.5 555.5 L999.9 556.5 L1000.8 554.0 L1001.5 551.8 L1002.3 556.5 L1004.0 557.0 L1006.6 555.5 L1007.3 550.0 L1007.9 544.2 L1008.6 551.0 L1009.5 556.5 L1012.0 556.0 L1014.2 554.5 L1014.9 545.0 L1015.5 533.2 L1016.1 545.0 L1016.7 555.0 L1018.5 554.5 L1020.9 553.5 L1022.6 552.0 L1024.0 553.5 L1027.7 554.3 L1034.4 556.8 L1041.2 558.5 L1058.0 559.0 L1083.3 558.9 L1087.2 558.0 L1088.0 555.7 L1088.8 558.0 L1093.8 558.2" fill="none" stroke="#109210" stroke-width="2.7" stroke-linejoin="round" stroke-linecap="butt"/>
<path d="M1015.5 534.0 L1015.5 487.7" fill="none" stroke="#139813" stroke-width="1.6" stroke-linejoin="round"/>
<line x1="603.6" y1="509.4" x2="603.6" y2="535.2" stroke="#ff3a04" stroke-width="2.2"/>
<line x1="609.0" y1="521.3" x2="609.0" y2="548.1" stroke="#ff3a04" stroke-width="2.2"/>
<line x1="614.6" y1="512.1" x2="614.6" y2="533.9" stroke="#ff3a04" stroke-width="2.2"/>
<line x1="620.2" y1="528.5" x2="620.2" y2="549.3" stroke="#ff3a04" stroke-width="2.2"/>
<line x1="626.2" y1="528.9" x2="626.2" y2="548.1" stroke="#ff3a04" stroke-width="2.2"/>
<line x1="630.7" y1="537.8" x2="630.7" y2="554.6" stroke="#ff3a04" stroke-width="2.2"/>
<line x1="634.3" y1="539.8" x2="634.3" y2="556.6" stroke="#ff3a04" stroke-width="2.2"/>
<line x1="637.8" y1="541.8" x2="637.8" y2="557.6" stroke="#ff3a04" stroke-width="2.2"/>
<line x1="641.0" y1="543.6" x2="641.0" y2="559.4" stroke="#ff3a04" stroke-width="2.2"/>
<line x1="644.1" y1="545.1" x2="644.1" y2="561.3" stroke="#ff3a04" stroke-width="2.2"/>
<line x1="650.0" y1="522.0" x2="650.0" y2="539.4" stroke="#ff3a04" stroke-width="2.2"/>
<line x1="656.3" y1="559.9" x2="656.3" y2="576.1" stroke="#ff3a04" stroke-width="2.2"/>
<line x1="661.9" y1="544.4" x2="661.9" y2="560.6" stroke="#ff3a04" stroke-width="2.2"/>
<line x1="668.2" y1="542.6" x2="668.2" y2="558.8" stroke="#ff3a04" stroke-width="2.2"/>
<line x1="674.6" y1="528.0" x2="674.6" y2="544.8" stroke="#ff3a04" stroke-width="2.2"/>
<line x1="680.9" y1="547.8" x2="680.9" y2="563.6" stroke="#ff3a04" stroke-width="2.2"/>
<line x1="687.2" y1="515.0" x2="687.2" y2="531.0" stroke="#ff3a04" stroke-width="2.2"/>
<line x1="693.7" y1="536.7" x2="693.7" y2="552.9" stroke="#ff3a04" stroke-width="2.2"/>
<line x1="700.3" y1="547.9" x2="700.3" y2="563.3" stroke="#ff3a04" stroke-width="2.2"/>
<line x1="706.6" y1="537.6" x2="706.6" y2="553.4" stroke="#ff3a04" stroke-width="2.2"/>
<line x1="713.3" y1="525.4" x2="713.3" y2="541.2" stroke="#ff3a04" stroke-width="2.2"/>
<line x1="719.9" y1="536.0" x2="719.9" y2="552.2" stroke="#ff3a04" stroke-width="2.2"/>
<line x1="727.2" y1="520.4" x2="727.2" y2="536.0" stroke="#ff3a04" stroke-width="2.2"/>
<line x1="733.6" y1="552.6" x2="733.6" y2="567.8" stroke="#ff3a04" stroke-width="2.2"/>
<line x1="740.6" y1="537.2" x2="740.6" y2="552.4" stroke="#ff3a04" stroke-width="2.2"/>
<line x1="747.5" y1="524.0" x2="747.5" y2="539.8" stroke="#ff3a04" stroke-width="2.2"/>
<line x1="754.5" y1="525.4" x2="754.5" y2="541.2" stroke="#ff3a04" stroke-width="2.2"/>
<line x1="761.8" y1="527.8" x2="761.8" y2="543.6" stroke="#ff3a04" stroke-width="2.2"/>
<line x1="768.8" y1="529.9" x2="768.8" y2="545.7" stroke="#ff3a04" stroke-width="2.2"/>
<line x1="776.2" y1="527.1" x2="776.2" y2="542.9" stroke="#ff3a04" stroke-width="2.2"/>
<line x1="783.5" y1="551.9" x2="783.5" y2="567.7" stroke="#ff3a04" stroke-width="2.2"/>
<line x1="819.4" y1="544.4" x2="819.4" y2="560.6" stroke="#ff3a04" stroke-width="2.2"/>
<line x1="827.1" y1="556.3" x2="827.1" y2="572.5" stroke="#ff3a04" stroke-width="2.2"/>
<line x1="834.8" y1="532.2" x2="834.8" y2="548.4" stroke="#ff3a04" stroke-width="2.2"/>
<line x1="842.8" y1="534.2" x2="842.8" y2="550.4" stroke="#ff3a04" stroke-width="2.2"/>
<line x1="851.0" y1="545.8" x2="851.0" y2="562.0" stroke="#ff3a04" stroke-width="2.2"/>
<line x1="859.1" y1="523.6" x2="859.1" y2="539.8" stroke="#ff3a04" stroke-width="2.2"/>
<line x1="867.4" y1="541.2" x2="867.4" y2="557.4" stroke="#ff3a04" stroke-width="2.2"/>
<line x1="875.6" y1="512.7" x2="875.6" y2="530.5" stroke="#ff3a04" stroke-width="2.2"/>
<line x1="883.6" y1="549.5" x2="883.6" y2="567.3" stroke="#ff3a04" stroke-width="2.2"/>
<line x1="892.0" y1="520.6" x2="892.0" y2="539.4" stroke="#ff3a04" stroke-width="2.2"/>
<line x1="900.4" y1="507.3" x2="900.4" y2="528.1" stroke="#ff3a04" stroke-width="2.2"/>
<line x1="909.3" y1="517.2" x2="909.3" y2="538.0" stroke="#ff3a04" stroke-width="2.2"/>
<line x1="917.8" y1="530.9" x2="917.8" y2="550.7" stroke="#ff3a04" stroke-width="2.2"/>
<line x1="926.2" y1="511.7" x2="926.2" y2="533.9" stroke="#ff3a04" stroke-width="2.2"/>
<line x1="935.2" y1="525.4" x2="935.2" y2="548.2" stroke="#ff3a04" stroke-width="2.2"/>
<line x1="944.4" y1="526.0" x2="944.4" y2="548.8" stroke="#ff3a04" stroke-width="2.2"/>
<line x1="953.5" y1="530.1" x2="953.5" y2="554.3" stroke="#ff3a04" stroke-width="2.2"/>
<line x1="962.3" y1="554.2" x2="962.3" y2="579.0" stroke="#ff3a04" stroke-width="2.2"/>
<line x1="971.2" y1="535.5" x2="971.2" y2="561.5" stroke="#ff3a04" stroke-width="2.2"/>
<line x1="981.0" y1="535.5" x2="981.0" y2="561.5" stroke="#ff3a04" stroke-width="2.2"/>
<line x1="990.1" y1="517.6" x2="990.1" y2="543.2" stroke="#ff3a04" stroke-width="2.2"/>
<line x1="999.5" y1="518.8" x2="999.5" y2="544.2" stroke="#ff3a04" stroke-width="2.2"/>
<line x1="1009.5" y1="524.5" x2="1009.5" y2="550.3" stroke="#ff3a04" stroke-width="2.2"/>
<line x1="1018.9" y1="515.0" x2="1018.9" y2="541.4" stroke="#ff3a04" stroke-width="2.2"/>
<line x1="1028.9" y1="538.0" x2="1028.9" y2="564.8" stroke="#ff3a04" stroke-width="2.2"/>
<line x1="1038.3" y1="505.8" x2="1038.3" y2="534.4" stroke="#ff3a04" stroke-width="2.2"/>
<line x1="1048.8" y1="528.2" x2="1048.8" y2="556.8" stroke="#ff3a04" stroke-width="2.2"/>
<line x1="1059.0" y1="531.6" x2="1059.0" y2="561.8" stroke="#ff3a04" stroke-width="2.2"/>
<line x1="1068.6" y1="538.2" x2="1068.6" y2="568.0" stroke="#ff3a04" stroke-width="2.2"/>
<line x1="1079.3" y1="501.6" x2="1079.3" y2="535.2" stroke="#ff3a04" stroke-width="2.2"/>
<circle cx="603.6" cy="522.3" r="5.7" fill="#ff3a04"/>
<circle cx="609.0" cy="534.7" r="5.7" fill="#ff3a04"/>
<circle cx="614.6" cy="523.0" r="5.7" fill="#ff3a04"/>
<circle cx="620.2" cy="538.9" r="5.7" fill="#ff3a04"/>
<circle cx="626.2" cy="538.5" r="5.7" fill="#ff3a04"/>
<circle cx="630.7" cy="546.2" r="5.7" fill="#ff3a04"/>
<circle cx="634.3" cy="548.2" r="5.7" fill="#ff3a04"/>
<circle cx="637.8" cy="549.7" r="5.7" fill="#ff3a04"/>
<circle cx="641.0" cy="551.5" r="5.7" fill="#ff3a04"/>
<circle cx="644.1" cy="553.2" r="5.7" fill="#ff3a04"/>
<circle cx="650.0" cy="530.7" r="5.7" fill="#ff3a04"/>
<circle cx="656.3" cy="568.0" r="5.7" fill="#ff3a04"/>
<circle cx="661.9" cy="552.5" r="5.7" fill="#ff3a04"/>
<circle cx="668.2" cy="550.7" r="5.7" fill="#ff3a04"/>
<circle cx="674.6" cy="536.4" r="5.7" fill="#ff3a04"/>
<circle cx="680.9" cy="555.7" r="5.7" fill="#ff3a04"/>
<circle cx="687.2" cy="523.0" r="5.7" fill="#ff3a04"/>
<circle cx="693.7" cy="544.8" r="5.7" fill="#ff3a04"/>
<circle cx="700.3" cy="555.6" r="5.7" fill="#ff3a04"/>
<circle cx="706.6" cy="545.5" r="5.7" fill="#ff3a04"/>
<circle cx="713.3" cy="533.3" r="5.7" fill="#ff3a04"/>
<circle cx="719.9" cy="544.1" r="5.7" fill="#ff3a04"/>
<circle cx="727.2" cy="528.2" r="5.7" fill="#ff3a04"/>
<circle cx="733.6" cy="560.2" r="5.7" fill="#ff3a04"/>
<circle cx="740.6" cy="544.8" r="5.7" fill="#ff3a04"/>
<circle cx="747.5" cy="531.9" r="5.7" fill="#ff3a04"/>
<circle cx="754.5" cy="533.3" r="5.7" fill="#ff3a04"/>
<circle cx="761.8" cy="535.7" r="5.7" fill="#ff3a04"/>
<circle cx="768.8" cy="537.8" r="5.7" fill="#ff3a04"/>
<circle cx="776.2" cy="535.0" r="5.7" fill="#ff3a04"/>
<circle cx="783.5" cy="559.8" r="5.7" fill="#ff3a04"/>
<circle cx="819.4" cy="552.5" r="5.7" fill="#ff3a04"/>
<circle cx="827.1" cy="564.4" r="5.7" fill="#ff3a04"/>
<circle cx="834.8" cy="540.3" r="5.7" fill="#ff3a04"/>
<circle cx="842.8" cy="542.3" r="5.7" fill="#ff3a04"/>
<circle cx="851.0" cy="553.9" r="5.7" fill="#ff3a04"/>
<circle cx="859.1" cy="531.7" r="5.7" fill="#ff3a04"/>
<circle cx="867.4" cy="549.3" r="5.7" fill="#ff3a04"/>
<circle cx="875.6" cy="521.6" r="5.7" fill="#ff3a04"/>
<circle cx="883.6" cy="558.4" r="5.7" fill="#ff3a04"/>
<circle cx="892.0" cy="530.0" r="5.7" fill="#ff3a04"/>
<circle cx="900.4" cy="517.7" r="5.7" fill="#ff3a04"/>
<circle cx="909.3" cy="527.6" r="5.7" fill="#ff3a04"/>
<circle cx="917.8" cy="540.8" r="5.7" fill="#ff3a04"/>
<circle cx="926.2" cy="522.8" r="5.7" fill="#ff3a04"/>
<circle cx="935.2" cy="536.8" r="5.7" fill="#ff3a04"/>
<circle cx="944.4" cy="537.4" r="5.7" fill="#ff3a04"/>
<circle cx="953.5" cy="542.2" r="5.7" fill="#ff3a04"/>
<circle cx="962.3" cy="566.6" r="5.7" fill="#ff3a04"/>
<circle cx="971.2" cy="548.5" r="5.7" fill="#ff3a04"/>
<circle cx="981.0" cy="548.5" r="5.7" fill="#ff3a04"/>
<circle cx="990.1" cy="530.4" r="5.7" fill="#ff3a04"/>
<circle cx="999.5" cy="531.5" r="5.7" fill="#ff3a04"/>
<circle cx="1009.5" cy="537.4" r="5.7" fill="#ff3a04"/>
<circle cx="1018.9" cy="528.2" r="5.7" fill="#ff3a04"/>
<circle cx="1028.9" cy="551.4" r="5.7" fill="#ff3a04"/>
<circle cx="1038.3" cy="520.1" r="5.7" fill="#ff3a04"/>
<circle cx="1048.8" cy="542.5" r="5.7" fill="#ff3a04"/>
<circle cx="1059.0" cy="546.7" r="5.7" fill="#ff3a04"/>
<circle cx="1068.6" cy="553.1" r="5.7" fill="#ff3a04"/>
<circle cx="1079.3" cy="518.4" r="5.7" fill="#ff3a04"/>
<circle cx="603.6" cy="522.3" r="4.9" fill="#ff7f0e"/>
<circle cx="609.0" cy="534.7" r="4.9" fill="#ff7f0e"/>
<circle cx="614.6" cy="523.0" r="4.9" fill="#ff7f0e"/>
<circle cx="620.2" cy="538.9" r="4.9" fill="#ff7f0e"/>
<circle cx="626.2" cy="538.5" r="4.9" fill="#ff7f0e"/>
<circle cx="630.7" cy="546.2" r="4.9" fill="#ff7f0e"/>
<circle cx="634.3" cy="548.2" r="4.9" fill="#ff7f0e"/>
<circle cx="637.8" cy="549.7" r="4.9" fill="#ff7f0e"/>
<circle cx="641.0" cy="551.5" r="4.9" fill="#ff7f0e"/>
<circle cx="644.1" cy="553.2" r="4.9" fill="#ff7f0e"/>
<circle cx="650.0" cy="530.7" r="4.9" fill="#ff7f0e"/>
<circle cx="656.3" cy="568.0" r="4.9" fill="#ff7f0e"/>
<circle cx="661.9" cy="552.5" r="4.9" fill="#ff7f0e"/>
<circle cx="668.2" cy="550.7" r="4.9" fill="#ff7f0e"/>
<circle cx="674.6" cy="536.4" r="4.9" fill="#ff7f0e"/>
<circle cx="680.9" cy="555.7" r="4.9" fill="#ff7f0e"/>
<circle cx="687.2" cy="523.0" r="4.9" fill="#ff7f0e"/>
<circle cx="693.7" cy="544.8" r="4.9" fill="#ff7f0e"/>
<circle cx="700.3" cy="555.6" r="4.9" fill="#ff7f0e"/>
<circle cx="706.6" cy="545.5" r="4.9" fill="#ff7f0e"/>
<circle cx="713.3" cy="533.3" r="4.9" fill="#ff7f0e"/>
<circle cx="719.9" cy="544.1" r="4.9" fill="#ff7f0e"/>
<circle cx="727.2" cy="528.2" r="4.9" fill="#ff7f0e"/>
<circle cx="733.6" cy="560.2" r="4.9" fill="#ff7f0e"/>
<circle cx="740.6" cy="544.8" r="4.9" fill="#ff7f0e"/>
<circle cx="747.5" cy="531.9" r="4.9" fill="#ff7f0e"/>
<circle cx="754.5" cy="533.3" r="4.9" fill="#ff7f0e"/>
<circle cx="761.8" cy="535.7" r="4.9" fill="#ff7f0e"/>
<circle cx="768.8" cy="537.8" r="4.9" fill="#ff7f0e"/>
<circle cx="776.2" cy="535.0" r="4.9" fill="#ff7f0e"/>
<circle cx="783.5" cy="559.8" r="4.9" fill="#ff7f0e"/>
<circle cx="819.4" cy="552.5" r="4.9" fill="#ff7f0e"/>
<circle cx="827.1" cy="564.4" r="4.9" fill="#ff7f0e"/>
<circle cx="834.8" cy="540.3" r="4.9" fill="#ff7f0e"/>
<circle cx="842.8" cy="542.3" r="4.9" fill="#ff7f0e"/>
<circle cx="851.0" cy="553.9" r="4.9" fill="#ff7f0e"/>
<circle cx="859.1" cy="531.7" r="4.9" fill="#ff7f0e"/>
<circle cx="867.4" cy="549.3" r="4.9" fill="#ff7f0e"/>
<circle cx="875.6" cy="521.6" r="4.9" fill="#ff7f0e"/>
<circle cx="883.6" cy="558.4" r="4.9" fill="#ff7f0e"/>
<circle cx="892.0" cy="530.0" r="4.9" fill="#ff7f0e"/>
<circle cx="900.4" cy="517.7" r="4.9" fill="#ff7f0e"/>
<circle cx="909.3" cy="527.6" r="4.9" fill="#ff7f0e"/>
<circle cx="917.8" cy="540.8" r="4.9" fill="#ff7f0e"/>
<circle cx="926.2" cy="522.8" r="4.9" fill="#ff7f0e"/>
<circle cx="935.2" cy="536.8" r="4.9" fill="#ff7f0e"/>
<circle cx="944.4" cy="537.4" r="4.9" fill="#ff7f0e"/>
<circle cx="953.5" cy="542.2" r="4.9" fill="#ff7f0e"/>
<circle cx="962.3" cy="566.6" r="4.9" fill="#ff7f0e"/>
<circle cx="971.2" cy="548.5" r="4.9" fill="#ff7f0e"/>
<circle cx="981.0" cy="548.5" r="4.9" fill="#ff7f0e"/>
<circle cx="990.1" cy="530.4" r="4.9" fill="#ff7f0e"/>
<circle cx="999.5" cy="531.5" r="4.9" fill="#ff7f0e"/>
<circle cx="1009.5" cy="537.4" r="4.9" fill="#ff7f0e"/>
<circle cx="1018.9" cy="528.2" r="4.9" fill="#ff7f0e"/>
<circle cx="1028.9" cy="551.4" r="4.9" fill="#ff7f0e"/>
<circle cx="1038.3" cy="520.1" r="4.9" fill="#ff7f0e"/>
<circle cx="1048.8" cy="542.5" r="4.9" fill="#ff7f0e"/>
<circle cx="1059.0" cy="546.7" r="4.9" fill="#ff7f0e"/>
<circle cx="1068.6" cy="553.1" r="4.9" fill="#ff7f0e"/>
<circle cx="1079.3" cy="518.4" r="4.9" fill="#ff7f0e"/>
<line x1="274.5" y1="564.5" x2="274.5" y2="577.9" stroke="#0b1fa8" stroke-width="2.2"/>
<line x1="279.2" y1="560.9" x2="279.2" y2="574.3" stroke="#0b1fa8" stroke-width="2.2"/>
<line x1="283.9" y1="545.7" x2="283.9" y2="559.1" stroke="#0b1fa8" stroke-width="2.2"/>
<line x1="288.5" y1="566.3" x2="288.5" y2="579.7" stroke="#0b1fa8" stroke-width="2.2"/>
<line x1="293.2" y1="547.2" x2="293.2" y2="560.6" stroke="#0b1fa8" stroke-width="2.2"/>
<line x1="297.9" y1="552.5" x2="297.9" y2="565.9" stroke="#0b1fa8" stroke-width="2.2"/>
<line x1="302.6" y1="551.3" x2="302.6" y2="564.7" stroke="#0b1fa8" stroke-width="2.2"/>
<line x1="307.2" y1="549.6" x2="307.2" y2="563.0" stroke="#0b1fa8" stroke-width="2.2"/>
<line x1="311.9" y1="547.4" x2="311.9" y2="560.8" stroke="#0b1fa8" stroke-width="2.2"/>
<line x1="316.6" y1="554.7" x2="316.6" y2="568.1" stroke="#0b1fa8" stroke-width="2.2"/>
<line x1="321.3" y1="546.4" x2="321.3" y2="559.8" stroke="#0b1fa8" stroke-width="2.2"/>
<line x1="325.9" y1="546.7" x2="325.9" y2="560.1" stroke="#0b1fa8" stroke-width="2.2"/>
<line x1="330.6" y1="555.0" x2="330.6" y2="568.4" stroke="#0b1fa8" stroke-width="2.2"/>
<line x1="335.3" y1="546.7" x2="335.3" y2="560.1" stroke="#0b1fa8" stroke-width="2.2"/>
<line x1="340.0" y1="555.8" x2="340.0" y2="569.2" stroke="#0b1fa8" stroke-width="2.2"/>
<line x1="344.6" y1="547.5" x2="344.6" y2="560.9" stroke="#0b1fa8" stroke-width="2.2"/>
<line x1="349.3" y1="556.7" x2="349.3" y2="570.1" stroke="#0b1fa8" stroke-width="2.2"/>
<line x1="354.0" y1="549.5" x2="354.0" y2="562.9" stroke="#0b1fa8" stroke-width="2.2"/>
<line x1="358.7" y1="559.1" x2="358.7" y2="572.5" stroke="#0b1fa8" stroke-width="2.2"/>
<line x1="363.3" y1="571.1" x2="363.3" y2="584.5" stroke="#0b1fa8" stroke-width="2.2"/>
<line x1="368.0" y1="558.5" x2="368.0" y2="571.9" stroke="#0b1fa8" stroke-width="2.2"/>
<line x1="372.7" y1="558.6" x2="372.7" y2="572.0" stroke="#0b1fa8" stroke-width="2.2"/>
<circle cx="274.5" cy="571.2" r="5.5" fill="#0b1fa8"/>
<circle cx="279.2" cy="567.6" r="5.5" fill="#0b1fa8"/>
<circle cx="283.9" cy="552.4" r="5.5" fill="#0b1fa8"/>
<circle cx="288.5" cy="573.0" r="5.5" fill="#0b1fa8"/>
<circle cx="293.2" cy="553.9" r="5.5" fill="#0b1fa8"/>
<circle cx="297.9" cy="559.2" r="5.5" fill="#0b1fa8"/>
<circle cx="302.6" cy="558.0" r="5.5" fill="#0b1fa8"/>
<circle cx="307.2" cy="556.3" r="5.5" fill="#0b1fa8"/>
<circle cx="311.9" cy="554.1" r="5.5" fill="#0b1fa8"/>
<circle cx="316.6" cy="561.4" r="5.5" fill="#0b1fa8"/>
<circle cx="321.3" cy="553.1" r="5.5" fill="#0b1fa8"/>
<circle cx="325.9" cy="553.4" r="5.5" fill="#0b1fa8"/>
<circle cx="330.6" cy="561.7" r="5.5" fill="#0b1fa8"/>
<circle cx="335.3" cy="553.4" r="5.5" fill="#0b1fa8"/>
<circle cx="340.0" cy="562.5" r="5.5" fill="#0b1fa8"/>
<circle cx="344.6" cy="554.2" r="5.5" fill="#0b1fa8"/>
<circle cx="349.3" cy="563.4" r="5.5" fill="#0b1fa8"/>
<circle cx="354.0" cy="556.2" r="5.5" fill="#0b1fa8"/>
<circle cx="358.7" cy="565.8" r="5.5" fill="#0b1fa8"/>
<circle cx="363.3" cy="577.8" r="5.5" fill="#0b1fa8"/>
<circle cx="368.0" cy="565.2" r="5.5" fill="#0b1fa8"/>
<circle cx="372.7" cy="565.3" r="5.5" fill="#0b1fa8"/>
<circle cx="274.5" cy="571.2" r="4.8" fill="#1f77b4"/>
<circle cx="279.2" cy="567.6" r="4.8" fill="#1f77b4"/>
<circle cx="283.9" cy="552.4" r="4.8" fill="#1f77b4"/>
<circle cx="288.5" cy="573.0" r="4.8" fill="#1f77b4"/>
<circle cx="293.2" cy="553.9" r="4.8" fill="#1f77b4"/>
<circle cx="297.9" cy="559.2" r="4.8" fill="#1f77b4"/>
<circle cx="302.6" cy="558.0" r="4.8" fill="#1f77b4"/>
<circle cx="307.2" cy="556.3" r="4.8" fill="#1f77b4"/>
<circle cx="311.9" cy="554.1" r="4.8" fill="#1f77b4"/>
<circle cx="316.6" cy="561.4" r="4.8" fill="#1f77b4"/>
<circle cx="321.3" cy="553.1" r="4.8" fill="#1f77b4"/>
<circle cx="325.9" cy="553.4" r="4.8" fill="#1f77b4"/>
<circle cx="330.6" cy="561.7" r="4.8" fill="#1f77b4"/>
<circle cx="335.3" cy="553.4" r="4.8" fill="#1f77b4"/>
<circle cx="340.0" cy="562.5" r="4.8" fill="#1f77b4"/>
<circle cx="344.6" cy="554.2" r="4.8" fill="#1f77b4"/>
<circle cx="349.3" cy="563.4" r="4.8" fill="#1f77b4"/>
<circle cx="354.0" cy="556.2" r="4.8" fill="#1f77b4"/>
<circle cx="358.7" cy="565.8" r="4.8" fill="#1f77b4"/>
<circle cx="363.3" cy="577.8" r="4.8" fill="#1f77b4"/>
<circle cx="368.0" cy="565.2" r="4.8" fill="#1f77b4"/>
<circle cx="372.7" cy="565.3" r="4.8" fill="#1f77b4"/>
</g>
<rect x="224.3" y="103.5" width="910.5" height="496.5" fill="none" stroke="#000" stroke-width="1.6"/>
<g id="txt" stroke="#000" stroke-width="0.45" opacity="0.999">
<line x1="245.5" y1="600.0" x2="245.5" y2="606.5" stroke="#000" stroke-width="1.6"/>
<text transform="matrix(1.0068 0 0 1.0596 217.21 629.40)" font-size="22.80" stroke-width="0.49">1</text>
<text transform="matrix(1.0541 0 0 1.0683 231.53 629.48)" font-size="22.80" stroke-width="0.42">0</text>
<text transform="matrix(1.0541 0 0 1.0683 246.03 629.48)" font-size="22.80" stroke-width="0.42">0</text>
<text transform="matrix(1.0541 0 0 1.0683 260.54 629.48)" font-size="22.80" stroke-width="0.42">0</text>
<line x1="447.5" y1="600.0" x2="447.5" y2="606.5" stroke="#000" stroke-width="1.6"/>
<text transform="matrix(1.0161 0 0 1.0629 418.97 629.40)" font-size="22.80" stroke-width="0.48">2</text>
<text transform="matrix(1.0541 0 0 1.0683 433.54 629.48)" font-size="22.80" stroke-width="0.42">0</text>
<text transform="matrix(1.0541 0 0 1.0683 448.04 629.48)" font-size="22.80" stroke-width="0.42">0</text>
<text transform="matrix(1.0541 0 0 1.0683 462.55 629.48)" font-size="22.80" stroke-width="0.42">0</text>
<line x1="649.5" y1="600.0" x2="649.5" y2="606.5" stroke="#000" stroke-width="1.6"/>
<text transform="matrix(1.0124 0 0 1.0683 621.34 629.48)" font-size="22.80" stroke-width="0.48">3</text>
<text transform="matrix(1.0541 0 0 1.0683 635.55 629.48)" font-size="22.80" stroke-width="0.42">0</text>
<text transform="matrix(1.0541 0 0 1.0683 650.05 629.48)" font-size="22.80" stroke-width="0.42">0</text>
<text transform="matrix(1.0541 0 0 1.0683 664.56 629.48)" font-size="22.80" stroke-width="0.42">0</text>
<line x1="851.5" y1="600.0" x2="851.5" y2="606.5" stroke="#000" stroke-width="1.6"/>
<text transform="matrix(1.0543 0 0 1.0596 823.05 629.40)" font-size="22.80" stroke-width="0.42">4</text>
<text transform="matrix(1.0541 0 0 1.0683 837.56 629.48)" font-size="22.80" stroke-width="0.42">0</text>
<text transform="matrix(1.0541 0 0 1.0683 852.06 629.48)" font-size="22.80" stroke-width="0.42">0</text>
<text transform="matrix(1.0541 0 0 1.0683 866.57 629.48)" font-size="22.80" stroke-width="0.42">0</text>
<line x1="1053.5" y1="600.0" x2="1053.5" y2="606.5" stroke="#000" stroke-width="1.6"/>
<text transform="matrix(0.9949 0 0 1.0651 1025.35 629.49)" font-size="22.80" stroke-width="0.50">5</text>
<text transform="matrix(1.0541 0 0 1.0683 1039.57 629.48)" font-size="22.80" stroke-width="0.42">0</text>
<text transform="matrix(1.0541 0 0 1.0683 1054.07 629.48)" font-size="22.80" stroke-width="0.42">0</text>
<text transform="matrix(1.0541 0 0 1.0683 1068.58 629.48)" font-size="22.80" stroke-width="0.42">0</text>
<line x1="217.8" y1="562.1" x2="224.3" y2="562.1" stroke="#000" stroke-width="1.6"/>
<text transform="matrix(1.0541 0 0 1.0683 198.47 570.78)" font-size="22.80" stroke-width="0.42">0</text>
<line x1="217.8" y1="498.5" x2="224.3" y2="498.5" stroke="#000" stroke-width="1.6"/>
<text transform="matrix(1.0161 0 0 1.0629 169.40 507.05)" font-size="22.80" stroke-width="0.48">2</text>
<text transform="matrix(0.9949 0 0 1.0651 184.25 507.14)" font-size="22.80" stroke-width="0.50">5</text>
<text transform="matrix(1.0541 0 0 1.0683 198.47 507.13)" font-size="22.80" stroke-width="0.42">0</text>
<line x1="217.8" y1="434.8" x2="224.3" y2="434.8" stroke="#000" stroke-width="1.6"/>
<text transform="matrix(0.9949 0 0 1.0651 169.75 443.49)" font-size="22.80" stroke-width="0.50">5</text>
<text transform="matrix(1.0541 0 0 1.0683 183.97 443.48)" font-size="22.80" stroke-width="0.42">0</text>
<text transform="matrix(1.0541 0 0 1.0683 198.47 443.48)" font-size="22.80" stroke-width="0.42">0</text>
<line x1="217.8" y1="371.2" x2="224.3" y2="371.2" stroke="#000" stroke-width="1.6"/>
<text transform="matrix(1.0311 0 0 1.0596 169.56 379.75)" font-size="22.80" stroke-width="0.45">7</text>
<text transform="matrix(0.9949 0 0 1.0651 184.25 379.84)" font-size="22.80" stroke-width="0.50">5</text>
<text transform="matrix(1.0541 0 0 1.0683 198.47 379.83)" font-size="22.80" stroke-width="0.42">0</text>
<line x1="217.8" y1="307.5" x2="224.3" y2="307.5" stroke="#000" stroke-width="1.6"/>
<text transform="matrix(1.0068 0 0 1.0596 155.15 316.10)" font-size="22.80" stroke-width="0.49">1</text>
<text transform="matrix(1.0541 0 0 1.0683 169.46 316.18)" font-size="22.80" stroke-width="0.42">0</text>
<text transform="matrix(1.0541 0 0 1.0683 183.97 316.18)" font-size="22.80" stroke-width="0.42">0</text>
<text transform="matrix(1.0541 0 0 1.0683 198.47 316.18)" font-size="22.80" stroke-width="0.42">0</text>
<line x1="217.8" y1="243.9" x2="224.3" y2="243.9" stroke="#000" stroke-width="1.6"/>
<text transform="matrix(1.0068 0 0 1.0596 155.15 252.45)" font-size="22.80" stroke-width="0.49">1</text>
<text transform="matrix(1.0161 0 0 1.0629 169.40 252.45)" font-size="22.80" stroke-width="0.48">2</text>
<text transform="matrix(0.9949 0 0 1.0651 184.25 252.54)" font-size="22.80" stroke-width="0.50">5</text>
<text transform="matrix(1.0541 0 0 1.0683 198.47 252.53)" font-size="22.80" stroke-width="0.42">0</text>
<line x1="217.8" y1="180.2" x2="224.3" y2="180.2" stroke="#000" stroke-width="1.6"/>
<text transform="matrix(1.0068 0 0 1.0596 155.15 188.80)" font-size="22.80" stroke-width="0.49">1</text>
<text transform="matrix(0.9949 0 0 1.0651 169.75 188.89)" font-size="22.80" stroke-width="0.50">5</text>
<text transform="matrix(1.0541 0 0 1.0683 183.97 188.88)" font-size="22.80" stroke-width="0.42">0</text>
<text transform="matrix(1.0541 0 0 1.0683 198.47 188.88)" font-size="22.80" stroke-width="0.42">0</text>
<line x1="217.8" y1="116.6" x2="224.3" y2="116.6" stroke="#000" stroke-width="1.6"/>
<text transform="matrix(1.0068 0 0 1.0596 155.15 125.15)" font-size="22.80" stroke-width="0.49">1</text>
<text transform="matrix(1.0311 0 0 1.0596 169.56 125.15)" font-size="22.80" stroke-width="0.45">7</text>
<text transform="matrix(0.9949 0 0 1.0651 184.25 125.24)" font-size="22.80" stroke-width="0.50">5</text>
<text transform="matrix(1.0541 0 0 1.0683 198.47 125.23)" font-size="22.80" stroke-width="0.42">0</text>
<text transform="matrix(0.9859 0 0 1.0596 567.49 659.60)" font-size="26.05" stroke-width="0.50">W</text>
<text transform="matrix(0.8992 0 0 1.0481 593.06 659.70)" font-size="26.05" stroke-width="0.50">a</text>
<text transform="matrix(1.0792 0 0 1.0351 609.14 659.60)" font-size="26.05" stroke-width="0.38">v</text>
<text transform="matrix(1.0801 0 0 1.0481 624.12 659.70)" font-size="26.05" stroke-width="0.38">e</text>
<text transform="matrix(1.0222 0 0 1.0485 640.56 659.60)" font-size="26.05" stroke-width="0.47">l</text>
<text transform="matrix(1.0801 0 0 1.0481 647.38 659.70)" font-size="26.05" stroke-width="0.38">e</text>
<text transform="matrix(1.0782 0 0 1.0408 663.67 659.60)" font-size="26.05" stroke-width="0.38">n</text>
<text transform="matrix(1.0869 0 0 1.0322 679.93 659.44)" font-size="26.05" stroke-width="0.37">g</text>
<text transform="matrix(1.3365 0 0 1.0731 696.39 659.38)" font-size="26.05" stroke-width="0.05">t</text>
<text transform="matrix(1.0856 0 0 1.0485 706.84 659.60)" font-size="26.05" stroke-width="0.37">h</text>
<text transform="matrix(0.8453 0 0 0.9560 732.10 657.88)" font-size="26.05" stroke-width="0.50">(</text>
<text transform="matrix(1.0782 0 0 1.0408 741.89 659.60)" font-size="26.05" stroke-width="0.38">n</text>
<text transform="matrix(1.1394 0 0 1.0408 758.29 659.60)" font-size="26.05" stroke-width="0.29">m</text>
<text transform="matrix(0.8453 0 0 0.9560 785.23 657.88)" font-size="26.05" stroke-width="0.50">)</text>
<g transform="translate(142.1 0) rotate(-90)">
<text transform="matrix(0.9564 0 0 1.0596 -588.84 0.00)" font-size="26.06" stroke-width="0.50">R</text>
<text transform="matrix(1.0801 0 0 1.0481 -571.01 0.10)" font-size="26.06" stroke-width="0.38">e</text>
<text transform="matrix(1.0222 0 0 1.0485 -554.55 0.00)" font-size="26.06" stroke-width="0.47">l</text>
<text transform="matrix(0.8992 0 0 1.0481 -547.40 0.10)" font-size="26.06" stroke-width="0.50">a</text>
<text transform="matrix(1.3365 0 0 1.0731 -531.83 -0.22)" font-size="26.06" stroke-width="0.05">t</text>
<text transform="matrix(1.0222 0 0 1.0485 -521.10 0.00)" font-size="26.06" stroke-width="0.47">i</text>
<text transform="matrix(1.0792 0 0 1.0351 -513.86 0.00)" font-size="26.06" stroke-width="0.38">v</text>
<text transform="matrix(1.0801 0 0 1.0481 -498.87 0.10)" font-size="26.06" stroke-width="0.38">e</text>
<text transform="matrix(1.3365 0 0 1.0731 -474.62 -0.22)" font-size="26.06" stroke-width="0.05">t</text>
<text transform="matrix(1.2812 0 0 1.0408 -464.42 0.00)" font-size="26.06" stroke-width="0.08">r</text>
<text transform="matrix(0.8992 0 0 1.0481 -453.28 0.10)" font-size="26.06" stroke-width="0.50">a</text>
<text transform="matrix(1.0782 0 0 1.0408 -437.38 0.00)" font-size="26.06" stroke-width="0.38">n</text>
<text transform="matrix(0.9586 0 0 1.0509 -420.65 0.10)" font-size="26.06" stroke-width="0.50">s</text>
<text transform="matrix(1.0222 0 0 1.0485 -407.11 0.00)" font-size="26.06" stroke-width="0.47">i</text>
<text transform="matrix(1.3365 0 0 1.0731 -400.37 -0.22)" font-size="26.06" stroke-width="0.05">t</text>
<text transform="matrix(1.0869 0 0 1.0539 -381.79 0.10)" font-size="26.06" stroke-width="0.37">d</text>
<text transform="matrix(1.0801 0 0 1.0481 -365.25 0.10)" font-size="26.06" stroke-width="0.38">e</text>
<text transform="matrix(1.0879 0 0 1.0308 -348.92 -0.15)" font-size="26.06" stroke-width="0.37">p</text>
<text transform="matrix(1.3365 0 0 1.0731 -332.74 -0.22)" font-size="26.06" stroke-width="0.05">t</text>
<text transform="matrix(1.0856 0 0 1.0485 -322.29 0.00)" font-size="26.06" stroke-width="0.37">h</text>
<text transform="matrix(1.0034 0 0 1.0481 -297.56 0.10)" font-size="26.06" stroke-width="0.49">c</text>
<text transform="matrix(1.0856 0 0 1.0485 -283.15 0.00)" font-size="26.06" stroke-width="0.37">h</text>
<text transform="matrix(0.8992 0 0 1.0481 -266.47 0.10)" font-size="26.06" stroke-width="0.50">a</text>
<text transform="matrix(1.0782 0 0 1.0408 -250.56 0.00)" font-size="26.06" stroke-width="0.38">n</text>
<text transform="matrix(1.0869 0 0 1.0322 -234.30 -0.16)" font-size="26.06" stroke-width="0.37">g</text>
<text transform="matrix(1.0801 0 0 1.0481 -217.76 0.10)" font-size="26.06" stroke-width="0.38">e</text>
<text transform="matrix(0.8453 0 0 0.9560 -192.80 -1.72)" font-size="26.06" stroke-width="0.50">(</text>
<text transform="matrix(1.0879 0 0 1.0308 -182.97 -0.15)" font-size="26.06" stroke-width="0.37">p</text>
<text transform="matrix(1.0879 0 0 1.0308 -166.42 -0.15)" font-size="26.06" stroke-width="0.37">p</text>
<text transform="matrix(1.1394 0 0 1.0408 -150.02 0.00)" font-size="26.06" stroke-width="0.29">m</text>
<text transform="matrix(0.8453 0 0 0.9560 -123.07 -1.72)" font-size="26.06" stroke-width="0.50">)</text>
</g>
</g>
<rect x="235.8" y="115.0" width="654.8" height="144.6" rx="4" ry="4" fill="#fff" fill-opacity="0.8" stroke="#ccc" stroke-width="1.6"/>
<line x1="243.8" y1="135.9" x2="291.6" y2="135.9" stroke="#0a7d0a" stroke-width="2.4"/>
<rect x="245.0" y="163.0" width="45.2" height="15.0" fill="#e9e9e9"/>
<line x1="267.5" y1="193.0" x2="267.5" y2="215.4" stroke="#ff3a04" stroke-width="2.2"/>
<circle cx="267.5" cy="204.3" r="5.7" fill="#ff3a04"/><circle cx="267.5" cy="204.3" r="4.9" fill="#ff7f0e"/>
<line x1="267.5" y1="226.8" x2="267.5" y2="249.2" stroke="#0b1fa8" stroke-width="2.2"/>
<circle cx="267.5" cy="238.0" r="5.5" fill="#0b1fa8"/><circle cx="267.5" cy="238.0" r="4.85" fill="#1f77b4"/>
<g id="ltxt" stroke="#000" stroke-width="0.45" opacity="0.999">
<text transform="matrix(0.9971 0 0 1.0596 308.93 143.60)" font-size="22.85" stroke-width="0.50">M</text>
<text transform="matrix(1.0631 0 0 1.0481 328.51 143.69)" font-size="22.85" stroke-width="0.41">o</text>
<text transform="matrix(1.0869 0 0 1.0539 342.47 143.69)" font-size="22.85" stroke-width="0.37">d</text>
<text transform="matrix(1.0801 0 0 1.0481 356.97 143.69)" font-size="22.85" stroke-width="0.38">e</text>
<text transform="matrix(1.0222 0 0 1.0485 371.39 143.60)" font-size="22.85" stroke-width="0.47">l</text>
<text transform="matrix(1.0879 0 0 1.0308 384.90 143.47)" font-size="22.85" stroke-width="0.37">p</text>
<text transform="matrix(1.2812 0 0 1.0408 399.06 143.60)" font-size="22.85" stroke-width="0.08">r</text>
<text transform="matrix(1.0801 0 0 1.0481 408.53 143.69)" font-size="22.85" stroke-width="0.38">e</text>
<text transform="matrix(1.0869 0 0 1.0539 422.60 143.69)" font-size="22.85" stroke-width="0.37">d</text>
<text transform="matrix(1.0222 0 0 1.0485 437.47 143.60)" font-size="22.85" stroke-width="0.47">i</text>
<text transform="matrix(1.0034 0 0 1.0481 443.52 143.69)" font-size="22.85" stroke-width="0.49">c</text>
<text transform="matrix(1.3365 0 0 1.0731 455.95 143.41)" font-size="22.85" stroke-width="0.05">t</text>
<text transform="matrix(1.0222 0 0 1.0485 465.34 143.60)" font-size="22.85" stroke-width="0.47">i</text>
<text transform="matrix(1.0631 0 0 1.0481 471.34 143.69)" font-size="22.85" stroke-width="0.41">o</text>
<text transform="matrix(1.0782 0 0 1.0408 485.52 143.60)" font-size="22.85" stroke-width="0.38">n</text>
<text transform="matrix(1.0879 0 0 1.0539 507.30 143.69)" font-size="22.85" stroke-width="0.37">b</text>
<text transform="matrix(0.8992 0 0 1.0481 521.83 143.69)" font-size="22.85" stroke-width="0.50">a</text>
<text transform="matrix(0.9586 0 0 1.0509 535.96 143.69)" font-size="22.85" stroke-width="0.50">s</text>
<text transform="matrix(1.0801 0 0 1.0481 547.45 143.69)" font-size="22.85" stroke-width="0.38">e</text>
<text transform="matrix(1.0869 0 0 1.0539 561.51 143.69)" font-size="22.85" stroke-width="0.37">d</text>
<text transform="matrix(1.0631 0 0 1.0481 583.30 143.69)" font-size="22.85" stroke-width="0.41">o</text>
<text transform="matrix(1.0782 0 0 1.0408 597.48 143.60)" font-size="22.85" stroke-width="0.38">n</text>
<text transform="matrix(0.9283 0 0 1.0683 618.99 143.69)" font-size="22.85" stroke-width="0.50">C</text>
<text transform="matrix(0.9564 0 0 1.0596 635.19 143.60)" font-size="22.85" stroke-width="0.50">R</text>
<text transform="matrix(1.0576 0 0 1.0596 650.63 143.60)" font-size="22.85" stroke-width="0.41">I</text>
<text transform="matrix(0.9564 0 0 1.0596 657.80 143.60)" font-size="22.85" stroke-width="0.50">R</text>
<text transform="matrix(0.8667 0 0 1.0596 673.85 143.60)" font-size="22.85" stroke-width="0.50">E</text>
<text transform="matrix(0.8914 0 0 1.0683 688.25 143.69)" font-size="22.85" stroke-width="0.50">S</text>
<text transform="matrix(1.0780 0 0 1.0250 723.30 143.56)" font-size="23.04" stroke-width="0.38">-</text>
<text transform="matrix(1.0631 0 0 1.0481 731.83 143.69)" font-size="23.04" stroke-width="0.41">o</text>
<text transform="matrix(1.0782 0 0 1.0408 746.13 143.60)" font-size="23.04" stroke-width="0.38">n</text>
<text transform="matrix(1.0222 0 0 1.0485 760.88 143.60)" font-size="23.04" stroke-width="0.47">l</text>
<text transform="matrix(1.0739 0 0 1.0259 767.32 143.49)" font-size="23.04" stroke-width="0.39">y</text>
<text transform="matrix(1.2812 0 0 1.0408 787.79 143.60)" font-size="23.04" stroke-width="0.08">r</text>
<text transform="matrix(1.0801 0 0 1.0481 797.35 143.69)" font-size="23.04" stroke-width="0.38">e</text>
<text transform="matrix(1.3365 0 0 1.0731 811.46 143.41)" font-size="23.04" stroke-width="0.05">t</text>
<text transform="matrix(1.2812 0 0 1.0408 820.48 143.60)" font-size="23.04" stroke-width="0.08">r</text>
<text transform="matrix(1.0222 0 0 1.0485 830.42 143.60)" font-size="23.04" stroke-width="0.47">i</text>
<text transform="matrix(1.0801 0 0 1.0481 836.44 143.69)" font-size="23.04" stroke-width="0.38">e</text>
<text transform="matrix(1.0792 0 0 1.0351 851.00 143.60)" font-size="23.04" stroke-width="0.38">v</text>
<text transform="matrix(0.8992 0 0 1.0481 864.54 143.69)" font-size="23.04" stroke-width="0.50">a</text>
<text transform="matrix(1.0222 0 0 1.0485 878.74 143.60)" font-size="23.04" stroke-width="0.47">l</text>
<text transform="matrix(0.9283 0 0 1.0683 309.33 178.28)" font-size="22.73" stroke-width="0.50">C</text>
<text transform="matrix(0.9564 0 0 1.0596 325.44 178.20)" font-size="22.73" stroke-width="0.50">R</text>
<text transform="matrix(1.0576 0 0 1.0596 340.80 178.20)" font-size="22.73" stroke-width="0.41">I</text>
<text transform="matrix(0.9564 0 0 1.0596 347.93 178.20)" font-size="22.73" stroke-width="0.50">R</text>
<text transform="matrix(0.8667 0 0 1.0596 363.89 178.20)" font-size="22.73" stroke-width="0.50">E</text>
<text transform="matrix(0.8914 0 0 1.0683 378.22 178.28)" font-size="22.73" stroke-width="0.50">S</text>
<text transform="matrix(1.0085 0 0 1.0596 419.99 178.20)" font-size="23.07" stroke-width="0.49">K</text>
<text transform="matrix(1.0161 0 0 1.0629 435.28 178.20)" font-size="23.07" stroke-width="0.48">2</text>
<text transform="matrix(1.0068 0 0 1.0596 450.21 178.20)" font-size="23.07" stroke-width="0.49">1</text>
<text transform="matrix(1.0543 0 0 1.0596 464.69 178.20)" font-size="23.07" stroke-width="0.42">4</text>
<text transform="matrix(1.0656 0 0 1.0683 479.30 178.29)" font-size="23.07" stroke-width="0.40">8</text>
<text transform="matrix(0.7800 0 0 1.1600 305.68 214.65)" font-size="22.92" stroke-width="0.50">J</text>
<text transform="matrix(0.9859 0 0 1.0596 316.21 212.70)" font-size="22.92" stroke-width="0.50">W</text>
<text transform="matrix(0.8914 0 0 1.0683 338.80 212.79)" font-size="22.92" stroke-width="0.50">S</text>
<text transform="matrix(1.0907 0 0 1.0596 352.14 212.70)" font-size="22.92" stroke-width="0.36">T</text>
<text transform="matrix(0.9878 0 0 1.0596 374.45 212.70)" font-size="22.92" stroke-width="0.50">N</text>
<text transform="matrix(1.0576 0 0 1.0596 391.22 212.70)" font-size="22.92" stroke-width="0.41">I</text>
<text transform="matrix(0.9564 0 0 1.0596 398.42 212.70)" font-size="22.92" stroke-width="0.50">R</text>
<text transform="matrix(0.8914 0 0 1.0683 414.48 212.79)" font-size="22.92" stroke-width="0.50">S</text>
<text transform="matrix(1.0879 0 0 1.0308 428.92 212.56)" font-size="22.92" stroke-width="0.37">p</text>
<text transform="matrix(1.0801 0 0 1.0481 443.21 212.79)" font-size="22.92" stroke-width="0.38">e</text>
<text transform="matrix(1.0034 0 0 1.0481 457.39 212.79)" font-size="22.92" stroke-width="0.49">c</text>
<text transform="matrix(0.9753 0 0 1.0683 477.15 212.79)" font-size="22.92" stroke-width="0.50">G</text>
<text transform="matrix(1.0124 0 0 1.0683 495.62 212.79)" font-size="22.92" stroke-width="0.48">3</text>
<text transform="matrix(0.9949 0 0 1.0651 510.20 212.79)" font-size="22.92" stroke-width="0.50">5</text>
<text transform="matrix(1.0888 0 0 1.0683 524.20 212.79)" font-size="22.92" stroke-width="0.37">9</text>
<text transform="matrix(0.9948 0 0 1.0596 538.89 212.70)" font-size="22.92" stroke-width="0.50">H</text>
<text transform="matrix(0.9948 0 0 1.0596 308.92 245.70)" font-size="22.98" stroke-width="0.50">H</text>
<text transform="matrix(0.8914 0 0 1.0683 326.41 245.79)" font-size="22.98" stroke-width="0.50">S</text>
<text transform="matrix(1.0907 0 0 1.0596 339.78 245.70)" font-size="22.98" stroke-width="0.36">T</text>
<text transform="matrix(1.0780 0 0 1.0250 354.47 245.66)" font-size="22.98" stroke-width="0.38">-</text>
<text transform="matrix(0.9859 0 0 1.0596 363.40 245.70)" font-size="22.98" stroke-width="0.50">W</text>
<text transform="matrix(0.8571 0 0 1.0596 386.10 245.70)" font-size="22.98" stroke-width="0.50">F</text>
<text transform="matrix(0.9283 0 0 1.0683 398.88 245.79)" font-size="22.98" stroke-width="0.50">C</text>
<text transform="matrix(1.0124 0 0 1.0683 415.58 245.79)" font-size="22.98" stroke-width="0.48">3</text>
<text transform="matrix(0.9674 0 0 1.0117 706.96 136.68)" font-size="20.0">+</text>
<text transform="matrix(0.9674 0 0 1.0117 396.76 171.28)" font-size="20.0">+</text>
</g>
</svg>
</body></html>
